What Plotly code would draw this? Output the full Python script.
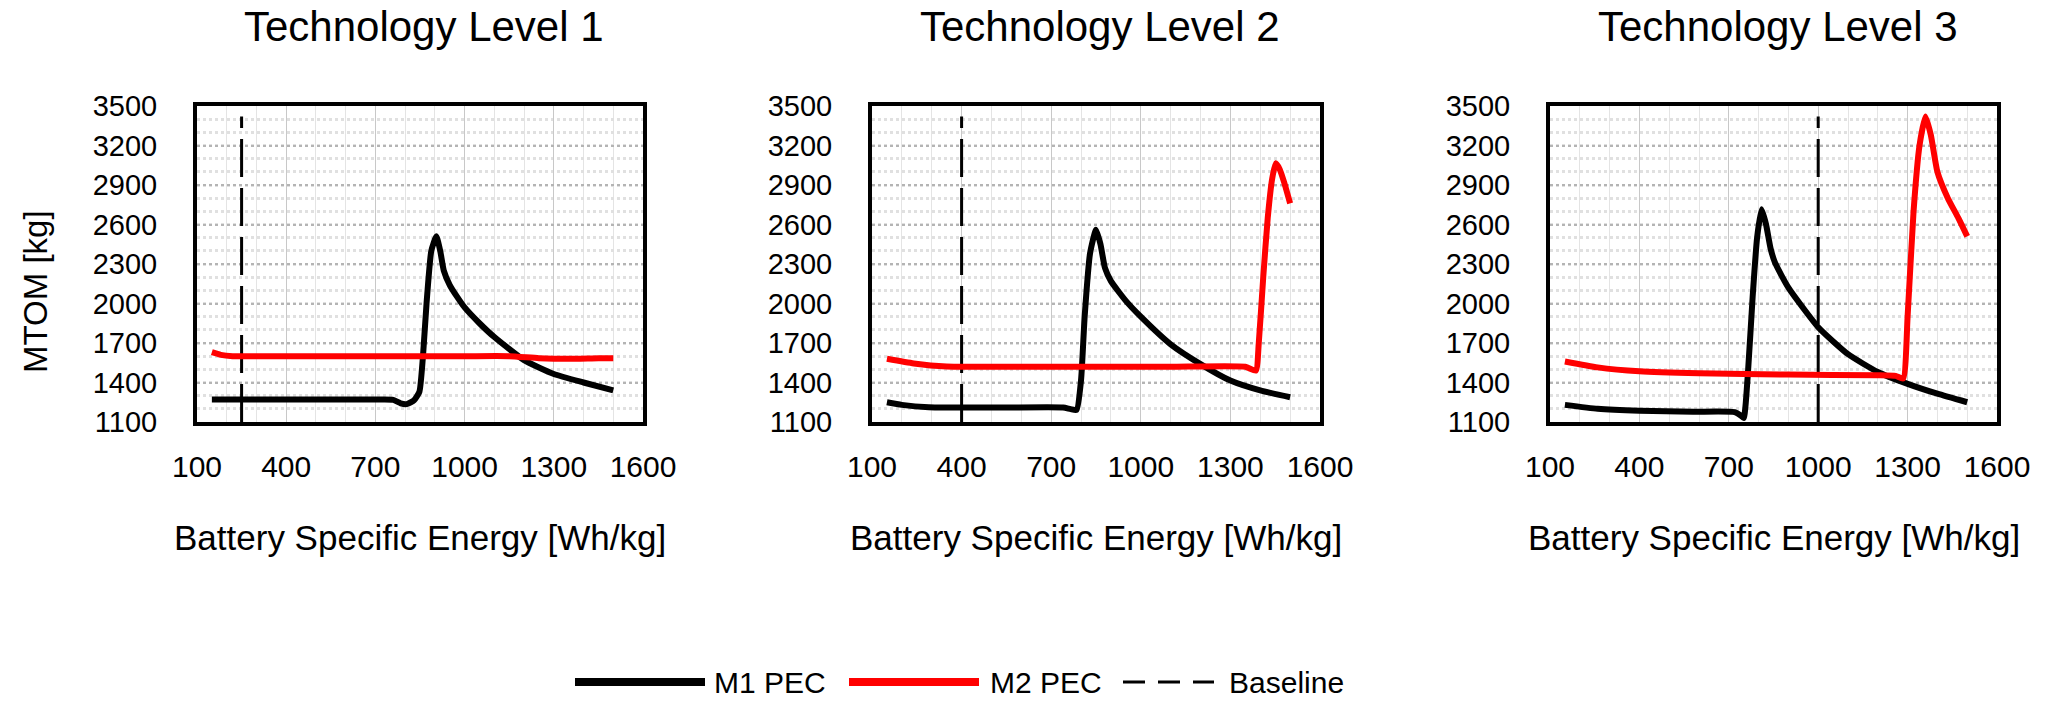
import plotly.graph_objects as go
from plotly.subplots import make_subplots

# ---- data -------------------------------------------------------------
panel_titles = ["Technology Level 1", "Technology Level 2", "Technology Level 3"]
x_title = "Battery Specific Energy [Wh/kg]"
y_title = "MTOM [kg]"
series_names = ["M1 PEC", "M2 PEC", "Baseline"]

x_ticks = [100, 400, 700, 1000, 1300, 1600]
y_ticks = [1100, 1400, 1700, 2000, 2300, 2600, 2900, 3200, 3500]

# Technology Level 1
tl1_m1_x = [150, 250, 400, 550, 700, 760, 785, 805, 830, 848, 860, 872, 888, 905, 918, 930, 950, 975, 1000, 1050, 1100, 1200, 1300, 1400, 1500]
tl1_m1_y = [1270, 1270, 1270, 1270, 1270, 1268, 1242, 1236, 1265, 1330, 1600, 2000, 2400, 2510, 2400, 2250, 2140, 2050, 1970, 1850, 1745, 1570, 1465, 1400, 1340]
tl1_m2_x = [150, 180, 220, 400, 700, 1000, 1150, 1250, 1350, 1450, 1500]
tl1_m2_y = [1630, 1610, 1600, 1600, 1600, 1600, 1600, 1585, 1580, 1585, 1585]

# Technology Level 2
tl2_m1_x = [150, 200, 290, 400, 550, 740, 765, 785, 800, 812, 830, 850, 865, 880, 900, 950, 1000, 1100, 1200, 1300, 1400, 1500]
tl2_m1_y = [1250, 1230, 1212, 1210, 1210, 1210, 1198, 1192, 1420, 1900, 2380, 2560, 2450, 2270, 2170, 2020, 1900, 1690, 1540, 1415, 1340, 1288]
tl2_m2_x = [150, 240, 350, 500, 800, 1100, 1350, 1385, 1395, 1410, 1425, 1440, 1452, 1465, 1480, 1500]
tl2_m2_y = [1580, 1545, 1522, 1520, 1520, 1520, 1520, 1490, 1700, 2200, 2650, 2950, 3065, 3020, 2920, 2760]

# Technology Level 3
tl3_m1_x = [150, 260, 400, 580, 720, 740, 750, 765, 780, 795, 810, 825, 840, 855, 900, 1000, 1100, 1200, 1300, 1400, 1500]
tl3_m1_y = [1230, 1200, 1185, 1178, 1175, 1150, 1130, 1500, 2050, 2500, 2715, 2600, 2420, 2310, 2120, 1820, 1615, 1480, 1390, 1315, 1250]
tl3_m2_x = [150, 260, 400, 600, 900, 1200, 1260, 1285, 1300, 1320, 1340, 1360, 1378, 1400, 1435, 1470, 1500]
tl3_m2_y = [1560, 1515, 1485, 1470, 1460, 1455, 1450, 1430, 1900, 2700, 3200, 3420, 3280, 3000, 2800, 2650, 2510]

# Baseline battery specific energy per technology level
baseline_x = [250, 400, 1000]
baseline_y = [1100, 3420]

m1 = [(tl1_m1_x, tl1_m1_y), (tl2_m1_x, tl2_m1_y), (tl3_m1_x, tl3_m1_y)]
m2 = [(tl1_m2_x, tl1_m2_y), (tl2_m2_x, tl2_m2_y), (tl3_m2_x, tl3_m2_y)]

# ---- layout geometry (pixels) ----------------------------------------
W, H = 2047, 704
boxes = [(197, 643), (872, 1320), (1550, 1997)]
box_top, box_bottom = 106, 422
FONT = "Liberation Sans, Arial, sans-serif"

fig = make_subplots(rows=1, cols=3)

for i in range(3):
    row, col = 1, i + 1
    fig.add_trace(go.Scatter(
        x=[baseline_x[i], baseline_x[i]], y=baseline_y, mode="lines",
        line=dict(color="black", width=3, dash="38px,11px"),
        name=series_names[2], showlegend=False, hoverinfo="skip"), row=row, col=col)
    fig.add_trace(go.Scatter(
        x=m1[i][0], y=m1[i][1], mode="lines",
        line=dict(color="black", width=6, shape="spline", smoothing=0.5),
        name=series_names[0], showlegend=False), row=row, col=col)
    fig.add_trace(go.Scatter(
        x=m2[i][0], y=m2[i][1], mode="lines",
        line=dict(color="#ff0000", width=6, shape="spline", smoothing=0.5),
        name=series_names[1], showlegend=False), row=row, col=col)

for i, (l, r) in enumerate(boxes):
    ax = "" if i == 0 else str(i + 1)
    fig.layout["xaxis" + ax].update(
        domain=[l / W, r / W], range=[100, 1600], tickvals=x_ticks,
        showline=True, linecolor="black", linewidth=4, mirror=True,
        showgrid=True, gridcolor="#c8c8c8", gridwidth=1,
        minor=dict(dtick=100, tick0=100, showgrid=True, gridcolor="#e4e4e4", gridwidth=1),
        ticks="", ticklabelstandoff=15, zeroline=False, automargin=False,
        tickfont=dict(family=FONT, size=30, color="black"))
    fig.layout["yaxis" + ax].update(
        domain=[1 - box_bottom / H, 1 - box_top / H], range=[1100, 3500], tickvals=y_ticks,
        showline=True, linecolor="black", linewidth=4, mirror=True,
        showgrid=True, gridcolor="#b4b4b4", gridwidth=2, griddash="dot",
        minor=dict(dtick=100, tick0=1100, showgrid=True, gridcolor="#e0e0e0", gridwidth=3),
        ticks="", ticklabelstandoff=30, zeroline=False, automargin=False,
        tickfont=dict(family=FONT, size=29, color="black"))

annotations = []
for i, (l, r) in enumerate(boxes):
    annotations.append(dict(
        text=panel_titles[i], x=((l + r) / 2 + 4) / W, y=1 - 26 / H, xref="paper", yref="paper",
        xanchor="center", yanchor="middle", showarrow=False,
        font=dict(family=FONT, size=42, color="black")))
    annotations.append(dict(
        text=x_title, x=(l + r) / 2 / W, y=1 - 537 / H, xref="paper", yref="paper",
        xanchor="center", yanchor="middle", showarrow=False,
        font=dict(family=FONT, size=35, color="black")))
annotations.append(dict(
    text=y_title, x=35 / W, y=1 - 292 / H, xref="paper", yref="paper", textangle=-90,
    xanchor="center", yanchor="middle", showarrow=False,
    font=dict(family=FONT, size=33, color="black")))

# legend row along the bottom
leg_y = 1 - 682 / H
legend_items = [
    (575, 705, 712, dict(color="black", width=8), series_names[0]),
    (849, 979, 988, dict(color="#ff0000", width=8), series_names[1]),
    (1123, 1214, 1227, dict(color="black", width=3, dash="22px,13px"), series_names[2]),
]
shapes = []
for x0, x1, tx, line, label in legend_items:
    shapes.append(dict(type="line", xref="paper", yref="paper",
                       x0=x0 / W, x1=x1 / W, y0=leg_y, y1=leg_y, line=line))
    annotations.append(dict(
        text=label, x=tx / W, y=leg_y, xref="paper", yref="paper",
        xanchor="left", yanchor="middle", showarrow=False,
        font=dict(family=FONT, size=30, color="black")))

fig.update_layout(
    width=W, height=H, margin=dict(l=0, r=0, t=0, b=0, pad=0),
    paper_bgcolor="white", plot_bgcolor="white",
    showlegend=False, annotations=annotations, shapes=shapes)

fig.write_html("out.html")
